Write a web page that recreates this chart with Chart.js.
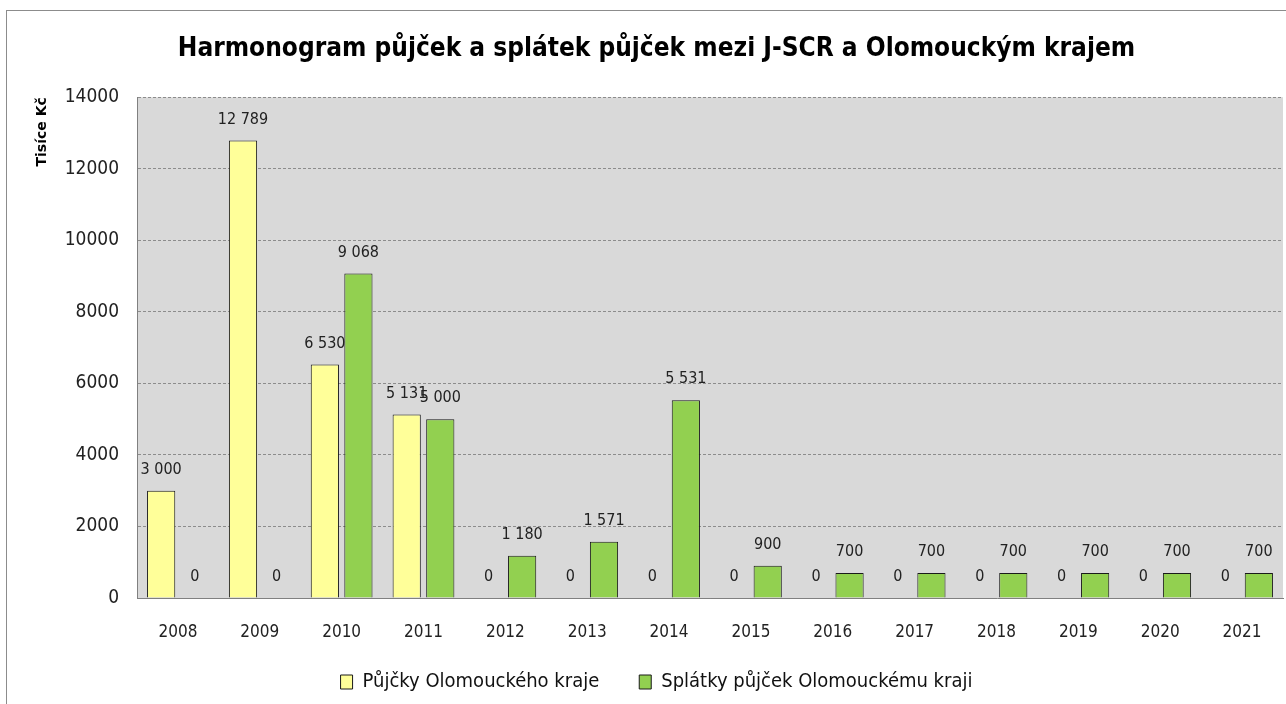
<!DOCTYPE html>
<html>
<head>
<meta charset="utf-8">
<script src="https://cdn.jsdelivr.net/npm/chart.js@4.4.1/dist/chart.umd.min.js"></script>
<style>
  html, body { margin: 0; padding: 0; background: #fff; }
  #wrap { position: relative; width: 1286px; height: 704px; }
  #frame { position: absolute; left: 6px; top: 10px; width: 1290px; height: 700px; border: 1px solid #8c8c8c; box-sizing: border-box; }
  canvas { position: absolute; left: 0; top: 0; }
</style>
</head>
<body>
<div id="wrap">
  <div id="frame"></div>
  <canvas id="chart" width="1286" height="704"></canvas>
</div>
<script>
const years = ['2008', '2009', '2010', '2011', '2012', '2013', '2014', '2015', '2016', '2017', '2018', '2019', '2020', '2021'];
const loans = [3000, 12789, 6530, 5131, 0, 0, 0, 0, 0, 0, 0, 0, 0, 0];
const repayments = [0, 0, 9068, 5000, 1180, 1571, 5531, 900, 700, 700, 700, 700, 700, 700];

const FONT = '"Liberation Sans Narrow", "DejaVu Sans Condensed", sans-serif';

// thousands with a space, like the original: 12 789
const fmt = (v) => String(v).replace(/\B(?=(\d{3})+(?!\d))/g, ' ');

const valueLabels = {
  id: 'valueLabels',
  afterDatasetsDraw(chart) {
    const ctx = chart.ctx;
    ctx.save();
    ctx.font = '16px ' + FONT;
    ctx.fillStyle = '#222';
    ctx.textAlign = 'center';
    ctx.textBaseline = 'middle';
    chart.data.datasets.forEach((ds, i) => {
      chart.getDatasetMeta(i).data.forEach((bar, j) => {
        ctx.fillText(fmt(ds.data[j]), bar.x, bar.y - 21);
      });
    });
    ctx.restore();
  }
};

Chart.defaults.animation = false;
Chart.defaults.font.family = FONT;

new Chart(document.getElementById('chart'), {
  type: 'bar',
  data: {
    labels: years,
    datasets: [
      {
        label: 'Půjčky Olomouckého kraje',
        data: loans,
        backgroundColor: '#ffff99',
        borderColor: '#1a1a1a',
        borderWidth: 1,
        categoryPercentage: 0.82,
        barPercentage: 0.84
      },
      {
        label: 'Splátky půjček Olomouckému kraji',
        data: repayments,
        backgroundColor: '#92d050',
        borderColor: '#1a1a1a',
        borderWidth: 1,
        categoryPercentage: 0.82,
        barPercentage: 0.84
      }
    ]
  },
  options: {
    responsive: false,
    layout: { padding: { left: 30, right: 3, top: 10, bottom: 2 } },
    plugins: {
      title: {
        display: true,
        text: 'Harmonogram půjček a splátek půjček mezi J-SCR a Olomouckým krajem',
        color: '#000',
        font: { family: FONT, size: 26, weight: 'bold' },
        padding: { top: 24, bottom: 32 }
      },
      legend: {
        position: 'bottom',
        labels: {
          color: '#111',
          font: { family: FONT, size: 20 },
          boxWidth: 12,
          boxHeight: 14,
          padding: 40
        }
      },
      tooltip: { enabled: false }
    },
    scales: {
      x: {
        grid: { display: false },
        border: { color: '#808080' },
        ticks: { color: '#222', font: { family: FONT, size: 17 }, padding: 16 },
        afterFit: (s) => {
          s.height = 34;
          // let the year labels hang below the thin axis box
          s._computeLabelArea = () => undefined;
        }
      },
      y: {
        min: 0,
        max: 14000,
        ticks: {
          stepSize: 2000,
          color: '#222',
          font: { family: FONT, size: 19 },
          padding: 18,
          callback: (v) => String(v)
        },
        grid: { color: '#8c8c8c', drawTicks: false },
        border: { color: '#808080', dash: [3, 2] },
        title: {
          display: true,
          text: 'Tisíce Kč',
          align: 'end',
          color: '#000',
          font: { family: '"DejaVu Sans", sans-serif', size: 14, weight: 'bold' },
          padding: { top: 4, bottom: 0 }
        },
        afterFit: (s) => { s.width = 107; }
      }
    }
  },
  plugins: [
    {
      id: 'plotBg',
      beforeDraw(chart) {
        const a = chart.chartArea;
        chart.ctx.save();
        chart.ctx.fillStyle = '#d9d9d9';
        chart.ctx.fillRect(a.left, a.top, a.right - a.left, a.bottom - a.top);
        chart.ctx.restore();
      }
    },
    valueLabels
  ]
});
</script>
</body>
</html>
